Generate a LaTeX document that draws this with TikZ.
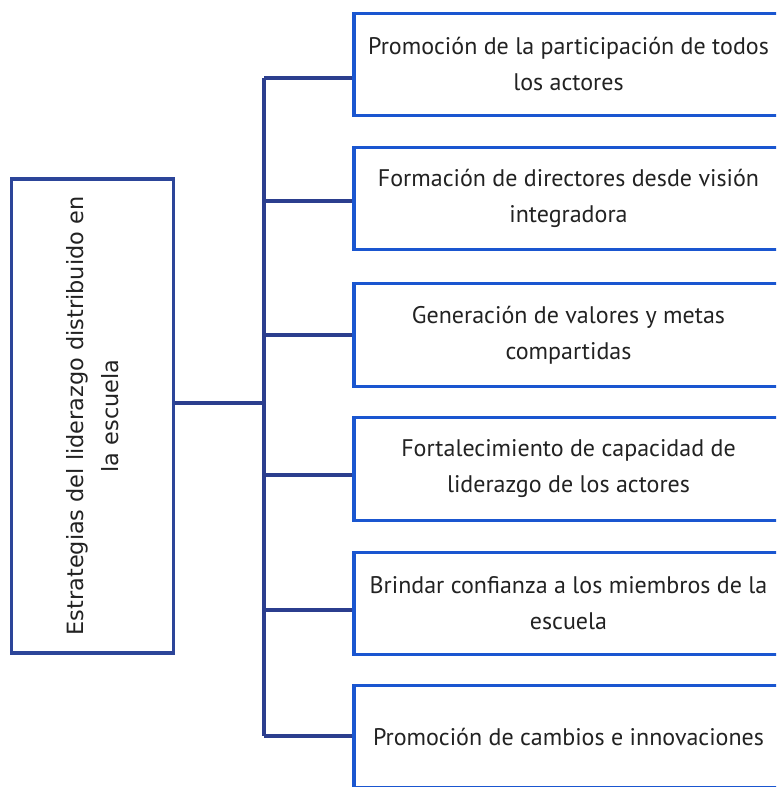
\documentclass[tikz,border=0pt]{standalone}
\usepackage{fontspec}
\setmainfont{PT Sans}
\newfontfamily\leftfont{DejaVu Sans}
\definecolor{rblue}{HTML}{1A56D0}
\definecolor{lblue}{HTML}{2C4599}
\definecolor{cblue}{HTML}{2B3E8E}
\definecolor{txt}{HTML}{222222}
\begin{document}
\begin{tikzpicture}[x=0.75pt,y=-0.75pt,
  rbox/.style={draw=rblue,line width=2.3pt,minimum width=321.75pt,minimum height=77pt,
    align=center,text=txt,font=\fontsize{18}{27}\selectfont,inner sep=0pt},
  lbox/.style={draw=lblue,line width=2.3pt,rotate=90,minimum width=355.5pt,minimum height=121.5pt,
    align=center,text=txt,font=\leftfont\fontsize{16.8}{26}\selectfont,inner sep=0pt},
  conn/.style={draw=cblue,line width=2.3pt}]
\useasboundingbox (0,0) rectangle (776,787);
\clip (0,0) rectangle (776,787);
\fill[white] (0,0) rectangle (776,787);
\node[lbox] (L) at (92.5,416) {Estrategias del liderazgo distribuido en\\la escuela};
\node[rbox] (b1) at (568.5,64.5) {Promoción de la participación de todos\\los actores};
\node[rbox] (b2) at (568.5,198.5) {Formación de directores desde visión\\integradora};
\node[rbox] (b3) at (568.5,335) {Generación de valores y metas\\compartidas};
\node[rbox] (b4) at (568.5,469) {Fortalecimiento de capacidad de\\liderazgo de los actores};
\node[rbox] (b5) at (568.5,603.5) {Brindar confianza a los miembros de la\\escuela};
\node[rbox] (b6) at (568.5,736.5) {Promoción de cambios e innovaciones};
\coordinate (t0) at (264,403);
\coordinate (t1) at (264,78);
\coordinate (t2) at (264,201);
\coordinate (t3) at (264,335);
\coordinate (t4) at (264,475);
\coordinate (t5) at (264,610);
\coordinate (t6) at (264,736);
\draw[conn] (t1) -- (t6);
\draw[conn] (L.south |- t0) -- (t0);
\foreach \i in {1,...,6} {\draw[conn] (t\i) -- (t\i -| b\i.west);}
\end{tikzpicture}
\end{document}
